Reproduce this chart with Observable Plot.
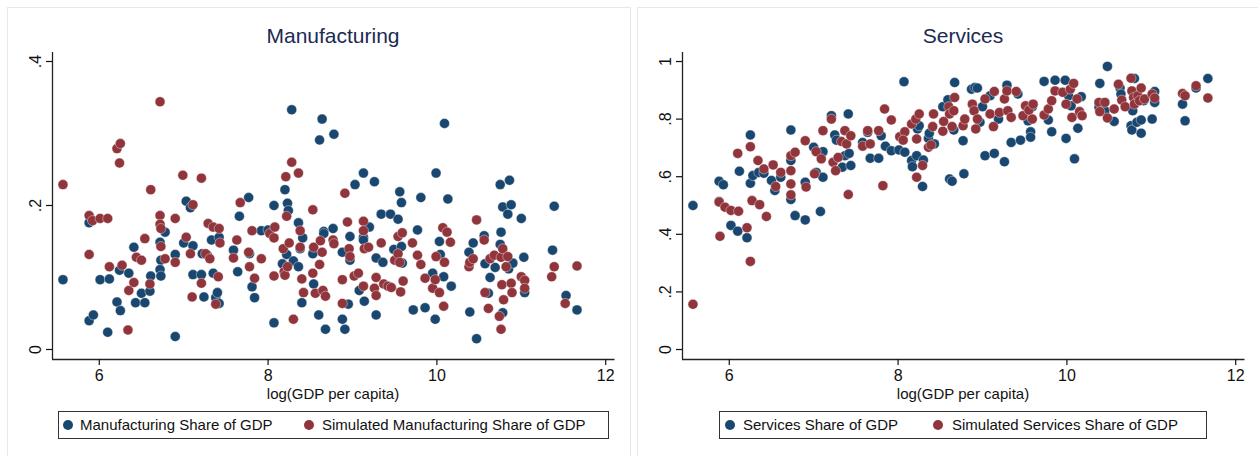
<!DOCTYPE html>
<html><head><meta charset="utf-8">
<script src="https://cdn.jsdelivr.net/npm/d3@7"></script>
<script src="https://cdn.jsdelivr.net/npm/@observablehq/plot@0.6"></script>
<style>
body{margin:0;background:#fff;font-family:"Liberation Sans",Arial,sans-serif;}
#root{position:relative;width:1258px;height:456px;overflow:hidden;background:#fff;}
.panel{position:absolute;top:7px;height:470px;border:1px solid #e3eaee;background:#fff;box-sizing:border-box;}
.chart{position:absolute;top:0;}
.title{position:absolute;top:25px;font-size:21px;line-height:21px;color:#1c2b52;transform:translateX(-50%);white-space:nowrap;}
.xlabel{position:absolute;top:386px;font-size:15px;line-height:15px;color:#111;transform:translateX(-50%);white-space:nowrap;}
.legend{position:absolute;top:411px;height:28px;border:1px solid #333;box-sizing:border-box;background:#fff;}
.dotk{position:absolute;top:420px;width:10px;height:10px;border-radius:50%;}
.ltext{position:absolute;top:416px;font-size:15px;line-height:17px;color:#111;white-space:nowrap;}
</style></head>
<body><div id="root"></div>
<script>
// ---------- data ----------
const xTicks = [6, 8, 10, 12];
const xTickLabels = ["6", "8", "10", "12"];
const mfgYTicks = [0, 0.2, 0.4];
const mfgYLabels = ["0", ".2", ".4"];
const servYTicks = [0, 0.2, 0.4, 0.6, 0.8, 1];
const servYLabels = ["0", ".2", ".4", ".6", ".8", "1"];
const xAxisTitle = "log(GDP per capita)";
const panelTitles = ["Manufacturing", "Services"];
const mfgSeriesNames = ["Manufacturing Share of GDP", "Simulated Manufacturing Share of GDP"];
const servSeriesNames = ["Services Share of GDP", "Simulated Services Share of GDP"];

const mfgObsX = [5.57,5.88,5.88,5.93,6.01,6.10,6.12,6.21,6.24,6.25,6.35,6.41,6.43,6.50,6.54,6.60,6.61,6.72,6.73,6.72,6.73,6.78,6.90,6.90,7.00,7.03,7.08,7.11,7.11,7.21,7.22,7.24,7.28,7.33,7.35,7.38,7.40,7.42,7.42,7.59,7.64,7.66,7.77,7.78,7.81,7.84,7.92,8.00,8.07,8.07,8.17,8.20,8.23,8.24,8.22,8.28,8.30,8.36,8.36,8.38,8.40,8.41,8.53,8.54,8.60,8.61,8.64,8.66,8.66,8.68,8.77,8.78,8.88,8.88,8.91,8.95,8.97,8.97,9.03,9.08,9.13,9.13,9.13,9.14,9.20,9.26,9.28,9.28,9.34,9.36,9.45,9.49,9.54,9.56,9.58,9.58,9.59,9.72,9.77,9.81,9.86,9.95,9.98,9.99,10.03,10.04,10.08,10.09,10.13,10.17,10.38,10.39,10.43,10.47,10.56,10.57,10.61,10.63,10.69,10.75,10.76,10.75,10.78,10.78,10.84,10.85,10.86,10.88,10.90,11.00,11.03,11.04,11.37,11.39,11.53,11.66];
const mfgObsY = [.097,.176,.040,.048,.097,.024,.098,.066,.110,.054,.106,.142,.065,.078,.065,.081,.102,.149,.124,.111,.102,.163,.132,.018,.148,.206,.197,.144,.104,.104,.133,.073,.131,.152,.106,.072,.079,.156,.064,.138,.108,.185,.211,.133,.087,.072,.165,.166,.200,.037,.119,.222,.203,.193,.132,.333,.123,.176,.115,.140,.065,.155,.133,.091,.048,.291,.320,.164,.161,.028,.168,.299,.135,.042,.028,.063,.157,.124,.229,.082,.245,.156,.152,.067,.170,.233,.127,.048,.188,.121,.188,.139,.181,.219,.204,.143,.120,.055,.166,.211,.058,.106,.042,.245,.150,.132,.101,.314,.209,.088,.135,.052,.148,.015,.158,.119,.078,.100,.114,.229,.163,.146,.051,.198,.188,.112,.235,.201,.120,.182,.128,.079,.138,.199,.075,.055];

const mfgSimX = [5.57,5.88,5.88,5.92,6.01,6.10,6.12,6.21,6.25,6.24,6.27,6.34,6.35,6.41,6.44,6.50,6.54,6.60,6.61,6.72,6.72,6.72,6.73,6.73,6.78,6.90,6.90,6.99,7.03,7.08,7.10,7.11,7.21,7.21,7.26,7.29,7.31,7.35,7.38,7.41,7.42,7.43,7.59,7.63,7.67,7.77,7.78,7.81,7.84,7.92,8.02,8.07,8.08,8.07,8.18,8.19,8.20,8.21,8.22,8.23,8.25,8.28,8.30,8.36,8.38,8.38,8.40,8.42,8.53,8.53,8.54,8.56,8.61,8.62,8.64,8.65,8.68,8.77,8.78,8.88,8.88,8.91,8.94,8.96,8.97,9.02,9.07,9.13,9.13,9.13,9.14,9.19,9.26,9.28,9.28,9.34,9.37,9.42,9.46,9.50,9.54,9.54,9.56,9.57,9.59,9.60,9.71,9.77,9.81,9.86,9.95,9.98,9.99,10.03,10.07,10.08,10.09,10.12,10.16,10.38,10.39,10.43,10.47,10.56,10.57,10.61,10.63,10.68,10.74,10.76,10.76,10.77,10.78,10.79,10.82,10.84,10.88,10.89,11.00,11.04,11.04,11.36,11.39,11.52,11.66];
const mfgSimY = [.229,.186,.132,.179,.182,.182,.115,.279,.286,.259,.117,.027,.082,.093,.128,.124,.154,.091,.222,.344,.186,.174,.168,.143,.126,.182,.121,.242,.156,.133,.073,.201,.238,.092,.133,.175,.126,.170,.063,.101,.168,.148,.127,.152,.204,.135,.115,.165,.099,.126,.161,.155,.170,.102,.140,.108,.103,.240,.185,.115,.148,.260,.042,.245,.165,.142,.098,.079,.194,.106,.142,.078,.118,.151,.135,.082,.074,.152,.147,.064,.097,.217,.177,.140,.129,.102,.106,.178,.165,.088,.140,.142,.085,.100,.075,.148,.091,.088,.086,.124,.157,.133,.121,.080,.162,.095,.148,.131,.118,.099,.085,.097,.129,.079,.169,.060,.121,.163,.149,.115,.121,.126,.180,.152,.079,.057,.126,.131,.046,.028,.128,.090,.140,.069,.115,.129,.092,.079,.101,.096,.085,.101,.115,.064,.116];

const servObsX = [5.57,5.88,5.93,5.88,6.02,6.10,6.12,6.21,6.25,6.25,6.28,6.35,6.41,6.50,6.54,6.61,6.73,6.73,6.73,6.78,6.90,6.90,7.00,7.03,7.08,7.11,7.11,7.21,7.25,7.27,7.34,7.37,7.41,7.42,7.44,7.58,7.64,7.67,7.77,7.80,7.85,7.92,8.01,8.07,8.08,8.16,8.17,8.22,8.23,8.25,8.30,8.29,8.36,8.37,8.43,8.53,8.59,8.61,8.64,8.66,8.67,8.77,8.78,8.87,8.91,8.94,8.97,9.00,9.03,9.09,9.14,9.19,9.26,9.29,9.34,9.42,9.45,9.54,9.57,9.57,9.59,9.73,9.78,9.82,9.86,9.98,9.99,10.02,10.05,10.09,10.13,10.17,10.39,10.38,10.45,10.48,10.56,10.63,10.64,10.76,10.77,10.78,10.80,10.83,10.88,10.88,10.91,11.01,11.04,11.04,11.37,11.40,11.53,11.67];
const servObsY = [.500,.584,.572,.514,.431,.411,.619,.388,.745,.577,.604,.615,.612,.587,.552,.598,.762,.521,.656,.465,.581,.450,.702,.615,.479,.687,.598,.812,.745,.727,.633,.673,.818,.681,.639,.719,.754,.664,.664,.742,.706,.690,.693,.930,.685,.656,.635,.673,.766,.777,.658,.566,.733,.751,.714,.843,.867,.592,.584,.762,.927,.725,.610,.904,.910,.908,.789,.843,.673,.881,.681,.800,.652,.918,.719,.887,.727,.794,.756,.737,.843,.931,.797,.756,.935,.935,.733,.881,.846,.662,.768,.878,.924,.841,.829,.983,.792,.908,.887,.777,.762,.829,.941,.789,.751,.797,.864,.800,.858,.896,.852,.794,.908,.941];

const servSimX = [5.57,5.88,5.89,5.95,6.02,6.11,6.10,6.21,6.25,6.25,6.27,6.34,6.36,6.41,6.44,6.52,6.55,6.61,6.73,6.73,6.73,6.73,6.78,6.90,6.91,7.01,7.03,7.09,7.11,7.21,7.23,7.26,7.29,7.33,7.37,7.39,7.41,7.44,7.58,7.64,7.67,7.77,7.82,7.84,7.92,8.02,8.08,8.06,8.16,8.21,8.22,8.22,8.25,8.29,8.36,8.39,8.41,8.42,8.53,8.54,8.60,8.61,8.64,8.66,8.67,8.77,8.79,8.88,8.90,8.92,8.94,9.03,9.09,9.13,9.14,9.20,9.26,9.29,9.30,9.34,9.40,9.48,9.51,9.55,9.59,9.60,9.73,9.78,9.82,9.86,9.95,9.99,10.04,10.06,10.08,10.12,10.15,10.18,10.38,10.39,10.45,10.48,10.56,10.61,10.65,10.69,10.76,10.77,10.79,10.80,10.84,10.86,10.88,10.92,11.01,11.04,11.37,11.40,11.53,11.67];
const servSimY = [.157,.512,.393,.494,.483,.480,.681,.423,.704,.306,.517,.656,.503,.627,.462,.641,.566,.615,.673,.621,.575,.537,.685,.725,.564,.610,.687,.662,.760,.800,.650,.621,.667,.722,.760,.714,.538,.742,.706,.760,.714,.760,.569,.835,.797,.739,.756,.727,.783,.800,.731,.598,.818,.639,.702,.710,.774,.818,.758,.792,.843,.818,.774,.829,.875,.777,.800,.852,.829,.766,.800,.870,.818,.774,.896,.823,.870,.898,.829,.806,.896,.812,.846,.831,.800,.852,.814,.835,.864,.898,.893,.852,.904,.806,.924,.870,.826,.812,.858,.826,.858,.804,.835,.921,.866,.843,.942,.898,.875,.852,.881,.864,.908,.870,.887,.873,.889,.881,.916,.873];

// ---------- drawing ----------
const BLUE = "#1a476f", RED = "#90353b";
const xDomain = [5.446, 12.11];
const root = document.getElementById("root");

function el(tag, cls, style, text) {
  const e = document.createElement(tag);
  if (cls) e.className = cls;
  Object.assign(e.style, style || {});
  if (text != null) e.textContent = text;
  root.appendChild(e);
  return e;
}

function drawPanel(off, cfg) {
  el("div", "panel", {left: (off + 7) + "px", width: "624px"});
  const obs = cfg.obsX.map((x, i) => ({x, y: cfg.obsY[i]}));
  const sim = cfg.simX.map((x, i) => ({x, y: cfg.simY[i]}));
  const chart = Plot.plot({
    width: 630, height: 400,
    marginLeft: 52, marginRight: 15.5, marginTop: 52, marginBottom: 41,
    style: {fontFamily: '"Liberation Sans", Arial, sans-serif', fontSize: "16px", color: "#111", background: "transparent", overflow: "visible"},
    x: {domain: xDomain},
    y: {domain: cfg.yDomain},
    marks: [
      Plot.ruleX([xDomain[0]], {stroke: "#222", strokeWidth: 1.3}),
      Plot.ruleY([cfg.yDomain[0]], {stroke: "#222", strokeWidth: 1.3}),
      Plot.axisX({ticks: xTicks, tickFormat: d => xTickLabels[xTicks.indexOf(d)], tickSize: 6, tickPadding: 4, label: null, strokeWidth: 1.2}),
      Plot.axisY({ticks: cfg.yTicks, tickFormat: d => cfg.yLabels[cfg.yTicks.indexOf(d)], tickSize: 6, tickPadding: 6, tickRotate: -90, label: null, strokeWidth: 1.2}),
      Plot.dot(obs, {x: "x", y: "y", r: 5, fill: BLUE, stroke: "#fff", strokeWidth: 0.4}),
      Plot.dot(sim, {x: "x", y: "y", r: 5, fill: RED, stroke: "#fff", strokeWidth: 0.4})
    ]
  });
  chart.classList.add("chart");
  chart.style.left = off + "px";
  root.appendChild(chart);

  el("div", "title", {left: (off + 333) + "px"}, cfg.title);
  el("div", "xlabel", {left: (off + 333) + "px"}, xAxisTitle);
  const L = cfg.legend;
  el("div", "legend", {left: (off + L.box[0]) + "px", width: (L.box[1] - L.box[0]) + "px"});
  el("div", "dotk", {left: (off + L.d1 - 5) + "px", background: BLUE});
  el("div", "ltext", {left: (off + L.t1) + "px"}, cfg.names[0]);
  el("div", "dotk", {left: (off + L.d2 - 5) + "px", background: RED});
  el("div", "ltext", {left: (off + L.t2) + "px"}, cfg.names[1]);
}

drawPanel(0, {
  title: panelTitles[0], names: mfgSeriesNames,
  obsX: mfgObsX, obsY: mfgObsY, simX: mfgSimX, simY: mfgSimY,
  yDomain: [-0.0139, 0.4125], yTicks: mfgYTicks, yLabels: mfgYLabels,
  legend: {box: [58, 609], d1: 68, t1: 80, d2: 309, t2: 322}
});
drawPanel(630, {
  title: panelTitles[1], names: servSeriesNames,
  obsX: servObsX, obsY: servObsY, simX: servSimX, simY: servSimY,
  yDomain: [-0.0347, 1.0313], yTicks: servYTicks, yLabels: servYLabels,
  legend: {box: [89, 577], d1: 100, t1: 113, d2: 308, t2: 322}
});
</script>
</body></html>
